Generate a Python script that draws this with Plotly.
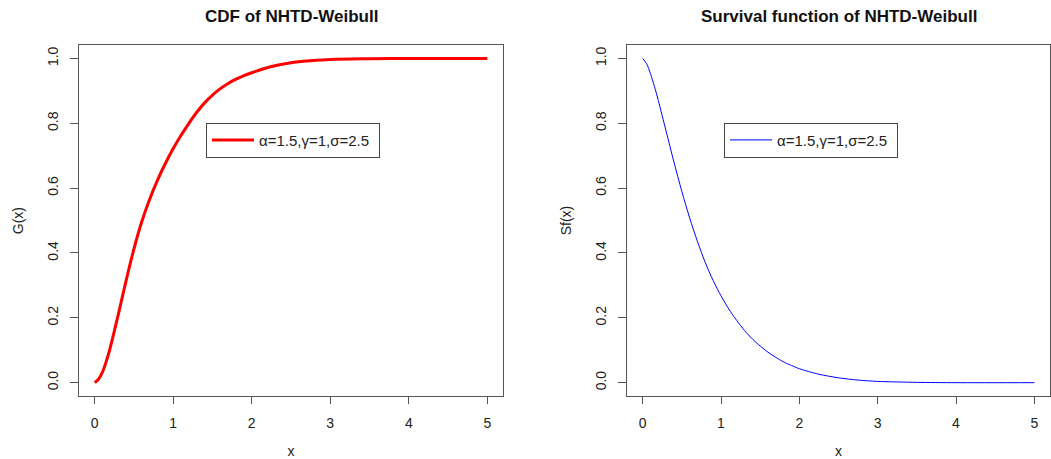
import plotly.graph_objects as go

# Sampled curve values for the NHTD-Weibull model (alpha=1.5, gamma=1, sigma=2.5)
x_vals = [0.0, 0.05, 0.1, 0.15, 0.2, 0.3, 0.4, 0.5, 0.6, 0.7, 0.8, 0.9, 1.0, 1.1, 1.2,
          1.3, 1.4, 1.5, 1.6, 1.7, 1.8, 1.9, 2.0, 2.25, 2.5, 2.75, 3.0, 3.5, 4.0, 5.0]
cdf_vals = [0.0, 0.011, 0.033, 0.068, 0.11, 0.21, 0.315, 0.413, 0.497, 0.566, 0.625, 0.676,
            0.722, 0.763, 0.80, 0.834, 0.863, 0.887, 0.907, 0.923, 0.936, 0.947, 0.956,
            0.975, 0.987, 0.993, 0.997, 0.999, 1.0, 1.0]
surv_vals = [1.0, 0.984, 0.953, 0.914, 0.87, 0.775, 0.68, 0.59, 0.508, 0.435, 0.37, 0.315,
             0.268, 0.227, 0.192, 0.161, 0.135, 0.113, 0.094, 0.078, 0.064, 0.053, 0.043,
             0.026, 0.015, 0.008, 0.004, 0.001, 0.0, 0.0]

legend_label = "α=1.5,γ=1,σ=2.5"
titles = ["CDF of NHTD-Weibull", "Survival function of NHTD-Weibull"]
y_titles = ["G(x)", "Sf(x)"]
x_ticks = [0, 1, 2, 3, 4, 5]
y_ticks = [0.0, 0.2, 0.4, 0.6, 0.8, 1.0]

FONT = "Liberation Sans, Arial, sans-serif"
TXT = "#222222"
AXC = "#555555"

fig = go.Figure()
fig.add_trace(go.Scatter(x=x_vals, y=cdf_vals, mode="lines", name=legend_label + "\u00a0",
                         line=dict(color="#ff0000", width=3, shape="spline", smoothing=0.8),
                         xaxis="x", yaxis="y", legend="legend", showlegend=True))
fig.add_trace(go.Scatter(x=x_vals, y=surv_vals, mode="lines", name=legend_label + "\u00a0",
                         line=dict(color="#0000ff", width=1, shape="spline", smoothing=0.8),
                         xaxis="x2", yaxis="y2", legend="legend2", showlegend=True))

W, H = 1051, 459
left_dom = [79 / W, 503 / W]
right_dom = [627 / W, 1050 / W]
y_dom = [(H - 400) / H, (H - 46) / H]


def xaxis(dom, anchor):
    return dict(domain=dom, anchor=anchor, range=[-0.2, 5.2], tickvals=x_ticks,
                ticks="outside", ticklen=7, tickwidth=1, tickcolor=AXC,
                showline=True, linecolor=AXC, linewidth=1, mirror=True,
                showgrid=False, zeroline=False, ticklabelstandoff=8,
                tickfont=dict(family=FONT, size=14, color=TXT),
                title=dict(text="x", font=dict(family=FONT, size=14, color=TXT), standoff=18))


def yaxis(anchor, title):
    return dict(domain=y_dom, anchor=anchor, range=[-0.04, 1.04], tickvals=y_ticks,
                tickformat=".1f", tickangle=-90,
                ticks="outside", ticklen=8, tickwidth=1, tickcolor=AXC,
                showline=True, linecolor=AXC, linewidth=1, mirror=True,
                showgrid=False, zeroline=False, ticklabelstandoff=6,
                tickfont=dict(family=FONT, size=14, color=TXT),
                title=dict(text=title, font=dict(family=FONT, size=14, color=TXT), standoff=18))


legend_common = dict(bgcolor="white", bordercolor="#444444", borderwidth=1,
                     font=dict(family=FONT, size=15, color=TXT),
                     xanchor="left", yanchor="top", itemwidth=42)

fig.update_layout(
    width=W, height=H,
    margin=dict(l=0, r=0, t=0, b=0),
    paper_bgcolor="white", plot_bgcolor="white",
    showlegend=True,
    xaxis=xaxis(left_dom, "y"), yaxis=yaxis("x", y_titles[0]),
    xaxis2=xaxis(right_dom, "y2"), yaxis2=yaxis("x2", y_titles[1]),
    legend=dict(x=206 / W, y=(H - 124) / H, **legend_common),
    legend2=dict(x=724 / W, y=(H - 124) / H, **legend_common),
    annotations=[
        dict(text="<b>" + titles[0] + "</b>", x=sum(left_dom) / 2, y=(H - 17) / H,
             xref="paper", yref="paper", showarrow=False, xanchor="center", yanchor="middle",
             font=dict(family=FONT, size=17, color="#111111")),
        dict(text="<b>" + titles[1] + "</b>", x=sum(right_dom) / 2, y=(H - 17) / H,
             xref="paper", yref="paper", showarrow=False, xanchor="center", yanchor="middle",
             font=dict(family=FONT, size=17, color="#111111")),
    ],
)

fig.write_html("out.html")
